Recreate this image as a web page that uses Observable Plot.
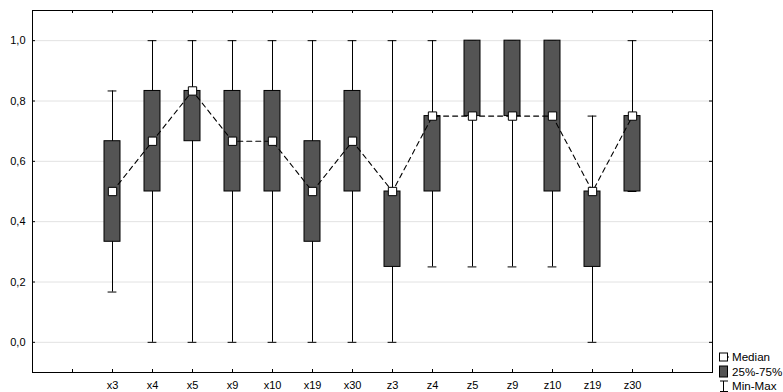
<!DOCTYPE html>
<html>
<head>
<meta charset="utf-8">
<script src="https://cdn.jsdelivr.net/npm/d3@7"></script>
<script src="https://cdn.jsdelivr.net/npm/@observablehq/plot@0.6"></script>
<style>
  html, body { margin: 0; padding: 0; background: white; }
  #wrap { position: relative; width: 783px; height: 392px; font-family: "Liberation Sans", Arial, sans-serif; overflow: hidden; }
  #legend { position: absolute; left: 0; top: 0; }
</style>
</head>
<body>
<div id="wrap"></div>
<script>
const categories = ["x3","x4","x5","x9","x10","x19","x30","z3","z4","z5","z9","z10","z19","z30"];
const mins    = [0.1667, 0, 0, 0, 0, 0, 0, 0, 0.25, 0.25, 0.25, 0.25, 0, 0.5];
const q1s     = [0.3333, 0.5, 0.6667, 0.5, 0.5, 0.3333, 0.5, 0.25, 0.5, 0.75, 0.75, 0.5, 0.25, 0.5];
const medians = [0.5, 0.6667, 0.8333, 0.6667, 0.6667, 0.5, 0.6667, 0.5, 0.75, 0.75, 0.75, 0.75, 0.5, 0.75];
const q3s     = [0.6667, 0.8333, 0.8333, 0.8333, 0.8333, 0.6667, 0.8333, 0.5, 0.75, 1, 1, 1, 0.5, 0.75];
const maxs    = [0.8333, 1, 1, 1, 1, 1, 1, 1, 1, 1, 1, 1, 0.75, 1];
const yTicks  = [0, 0.2, 0.4, 0.6, 0.8, 1.0];
const xTickLabels = ["", ...categories, ""];
const legendItems = ["Median", "25%-75%", "Min-Max"];

const W = 783, H = 392, mL = 32, mR = 71, mT = 10, mB = 20;
const plotW = W - mL - mR, plotH = H - mT - mB;
const tickLen = 3;

const data = categories.map((c, i) => ({c, pos: i + 2, min: mins[i], q1: q1s[i], med: medians[i], q3: q3s[i], max: maxs[i]}));
const tickPos = xTickLabels.map((d, i) => i + 1);

const chart = Plot.plot({
  width: W, height: H,
  marginLeft: mL, marginRight: mR, marginTop: mT, marginBottom: mB,
  style: {fontFamily: "'Liberation Sans', Arial, sans-serif", fontSize: "11px", background: "white", color: "black"},
  x: {type: "linear", domain: [0, xTickLabels.length + 1]},
  y: {domain: [-0.1, 1.1]},
  marks: [
    Plot.gridY(yTicks, {stroke: "#e2e2e2", strokeOpacity: 1}),
    Plot.axisY(yTicks, {tickSize: 0, tickPadding: 7, tickFormat: d => d.toFixed(1).replace(".", ","), label: null, fill: "black"}),
    Plot.axisX(tickPos, {tickSize: 0, tickPadding: 9, tickFormat: d => xTickLabels[d - 1], label: null, fill: "black"}),
    Plot.ruleX(tickPos, {insetBottom: plotH - tickLen, stroke: "black"}),
    Plot.ruleX(tickPos, {insetTop: plotH - tickLen, stroke: "black"}),
    Plot.ruleY(yTicks, {insetLeft: plotW - tickLen, stroke: "black"}),
    Plot.ruleY(yTicks, {insetRight: plotW - tickLen, stroke: "black"}),
    Plot.ruleX(data, {x: "pos", y1: "min", y2: "max", stroke: "black"}),
    Plot.ruleY(data, {y: "min", x1: d => d.pos - 0.11, x2: d => d.pos + 0.11, stroke: "black"}),
    Plot.ruleY(data, {y: "max", x1: d => d.pos - 0.11, x2: d => d.pos + 0.11, stroke: "black"}),
    Plot.rect(data, {x1: d => d.pos - 0.2, x2: d => d.pos + 0.2, y1: "q1", y2: "q3", fill: "#545454", stroke: "black", strokeWidth: 1}),
    Plot.line(data, {x: "pos", y: "med", stroke: "black", strokeWidth: 1.1, strokeDasharray: "5,4"}),
    Plot.dot(data, {x: "pos", y: "med", symbol: "square", r: 4.7, fill: "white", stroke: "black", strokeWidth: 1}),
    Plot.frame({stroke: "black"})
  ]
});
document.getElementById("wrap").appendChild(chart);

// Legend (bottom right)
const lg = d3.select("#wrap").append("svg").attr("id", "legend")
  .attr("width", W).attr("height", H).style("pointer-events", "none");
const lx = 719, rowY = [357, 371.5, 386];
const g = lg.append("g").attr("font-size", 11.6).attr("font-family", "'Liberation Sans', Arial, sans-serif");
// Median
g.append("line").attr("x1", lx + 8).attr("x2", lx + 10).attr("y1", rowY[0]).attr("y2", rowY[0]).attr("stroke", "black");
g.append("rect").attr("x", lx + 0.5).attr("y", rowY[0] - 4).attr("width", 8).attr("height", 8).attr("fill", "white").attr("stroke", "black");
// 25-75
g.append("rect").attr("x", lx + 0.5).attr("y", rowY[1] - 5.5).attr("width", 8).attr("height", 11).attr("fill", "#545454").attr("stroke", "black");
// Min-Max
g.append("line").attr("x1", lx + 4.5).attr("x2", lx + 4.5).attr("y1", rowY[2] - 5).attr("y2", rowY[2] + 5).attr("stroke", "black");
g.append("line").attr("x1", lx + 1).attr("x2", lx + 9).attr("y1", rowY[2] - 5).attr("y2", rowY[2] - 5).attr("stroke", "black");
g.append("line").attr("x1", lx + 1).attr("x2", lx + 9).attr("y1", rowY[2] + 5.5).attr("y2", rowY[2] + 5.5).attr("stroke", "black");
legendItems.forEach((t, i) => {
  g.append("text").attr("x", lx + 13).attr("y", rowY[i]).attr("dy", "0.36em").attr("fill", "black").text(t);
});
</script>
</body>
</html>
